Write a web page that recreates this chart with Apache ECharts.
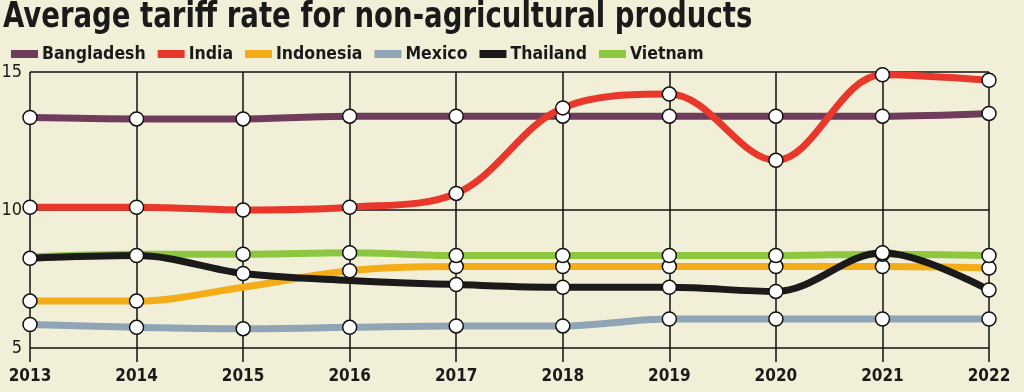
<!DOCTYPE html>
<html><head><meta charset="utf-8">
<script src="https://cdn.jsdelivr.net/npm/echarts@6/dist/echarts.min.js"></script>
<style>html,body{margin:0;padding:0;background:#f2efd8;}#c{width:1024px;height:392px;}</style>
</head><body><div id="c"></div>
<script>
const years = ['2013','2014','2015','2016','2017','2018','2019','2020','2021','2022'];
const seriesNames = ['Bangladesh','India','Indonesia','Mexico','Thailand','Vietnam'];
const bangladesh = [13.35, 13.3, 13.3, 13.4, 13.4, 13.4, 13.4, 13.4, 13.4, 13.5];
const india      = [10.1, 10.1, 10.0, 10.1, 10.6, 13.7, 14.2, 11.8, 14.9, 14.7];
const indonesia  = [6.7, 6.7, 7.2, 7.8, 7.95, 7.95, 7.95, 7.95, 7.95, 7.9];
const mexico     = [5.85, 5.75, 5.7, 5.75, 5.8, 5.8, 6.05, 6.05, 6.05, 6.05];
const thailand   = [8.25, 8.35, 7.7, 7.45, 7.3, 7.2, 7.2, 7.05, 8.45, 7.1];
const vietnam    = [8.3, 8.4, 8.4, 8.45, 8.35, 8.35, 8.35, 8.35, 8.4, 8.35];
const yTicks = [5, 10, 15];
const titleText = 'Average tariff rate for non-agricultural products';
const hiddenMarkers = {Indonesia: [2], Thailand: [3], Vietnam: [0, 1]};

const colors = {Bangladesh:'#6f3d5b', India:'#e8372b', Indonesia:'#f4ad19', Mexico:'#8fa4b4', Thailand:'#1b1a1a', Vietnam:'#8dc63f'};
const values = {Bangladesh:bangladesh, India:india, Indonesia:indonesia, Mexico:mexico, Thailand:thailand, Vietnam:vietnam};
const drawOrder = ['Bangladesh','Mexico','Indonesia','Vietnam','India','Thailand'];
const font = '"DejaVu Sans Condensed", sans-serif';

const chart = echarts.init(document.getElementById('c'));
const series = seriesNames.map(n => ({
  name: n, type: 'line', smooth: 0.35,
  z: 2 + drawOrder.indexOf(n),
  data: values[n].map((v,i) => (hiddenMarkers[n] && hiddenMarkers[n].includes(i)) ? {value:v, symbol:'none'} : v),
  symbol: 'circle', symbolSize: 14,
  lineStyle: {width: 7, color: colors[n]},
  itemStyle: {color: '#ffffff', borderColor: '#111', borderWidth: 1.5},
  emphasis: {disabled: true}
}));
chart.setOption({
  backgroundColor: '#f2efd8',
  animation: false,
  graphic: [{type: 'text', left: 3, top: 0, scaleX: 0.875,
    style: {text: titleText, fontFamily: font, fontWeight: 900, fontSize: 35, fill: '#1a1a1a'}}],
  legend: {left: 6, top: 40, itemWidth: 27, itemHeight: 8, itemGap: 12, icon: 'rect',
    data: seriesNames.map(n => ({name: n, itemStyle: {color: colors[n], borderWidth: 0}})),
    textStyle: {fontFamily: font, fontWeight: 'bold', fontSize: 17.5, color: '#1a1a1a', padding:[0,0,0,-1]}},
  grid: {left: 30, right: 35, top: 72, bottom: 44, outerBoundsMode: 'none'},
  xAxis: {type: 'category', data: years, boundaryGap: false,
    axisLine: {show: false},
    axisTick: {show: true, length: 14, lineStyle: {color: '#111', width: 1.5}},
    axisLabel: {fontFamily: font, fontWeight: 'bold', fontSize: 17, color: '#1a1a1a', margin: 20},
    splitLine: {show: true, lineStyle: {color: '#111', width: 1.5}}},
  yAxis: {type: 'value', min: yTicks[0], max: yTicks[yTicks.length-1], interval: 5,
    axisLine: {show: false}, axisTick: {show: false},
    axisLabel: {fontFamily: font, fontSize: 18, color: '#1a1a1a', margin: 8},
    splitLine: {show: true, lineStyle: {color: '#111', width: 1.5}}},
  series: series
});
</script></body></html>
